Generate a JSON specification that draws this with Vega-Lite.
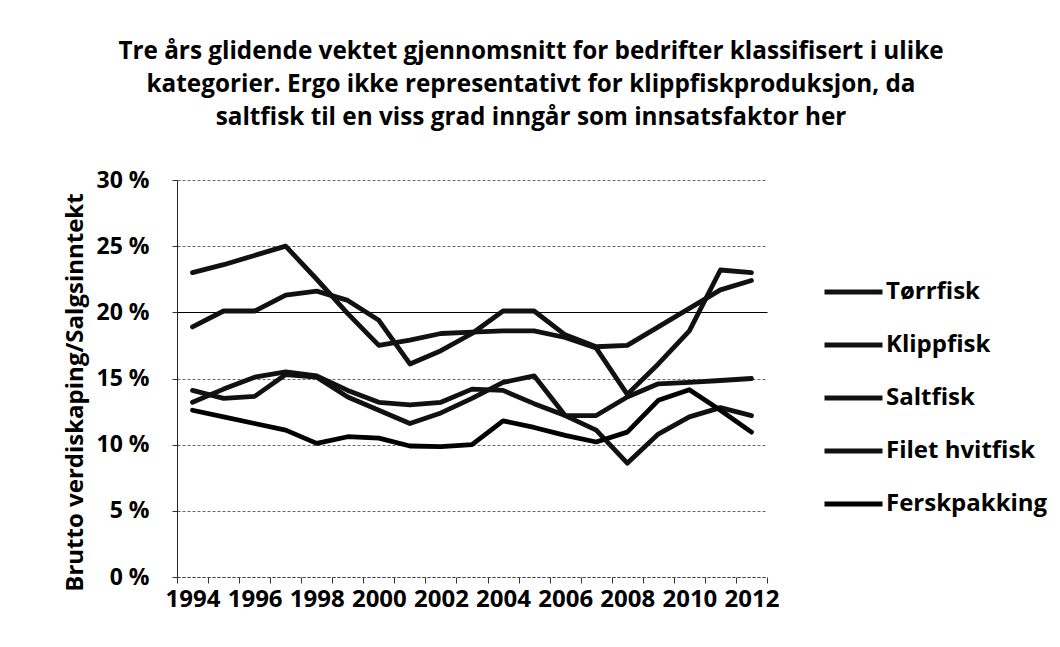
{
  "$schema": "https://vega.github.io/schema/vega-lite/v6.json",
  "autosize": "none",
  "width": 590,
  "height": 397,
  "padding": {"left": 177, "top": 180, "right": 293, "bottom": 70},
  "background": "white",
  "title": {
    "text": ["Tre års glidende vektet gjennomsnitt for bedrifter klassifisert i ulike", "kategorier. Ergo ikke representativt for klippfiskproduksjon, da", "saltfisk til en viss grad inngår som innsatsfaktor her"],
    "font": "Open Sans", "fontSize": 24.3, "fontWeight": "bold", "lineHeight": 33,
    "anchor": "middle", "dx": 59, "offset": 39, "color": "black"
  },
  "datasets": {
    "d": [
      {"year": 1994, "serie": "Tørrfisk", "value": 23.0},
      {"year": 1995, "serie": "Tørrfisk", "value": 23.6},
      {"year": 1996, "serie": "Tørrfisk", "value": 24.3},
      {"year": 1997, "serie": "Tørrfisk", "value": 25.0},
      {"year": 1998, "serie": "Tørrfisk", "value": 22.5},
      {"year": 1999, "serie": "Tørrfisk", "value": 19.9},
      {"year": 2000, "serie": "Tørrfisk", "value": 17.5},
      {"year": 2001, "serie": "Tørrfisk", "value": 17.9},
      {"year": 2002, "serie": "Tørrfisk", "value": 18.4},
      {"year": 2003, "serie": "Tørrfisk", "value": 18.5},
      {"year": 2004, "serie": "Tørrfisk", "value": 18.6},
      {"year": 2005, "serie": "Tørrfisk", "value": 18.6},
      {"year": 2006, "serie": "Tørrfisk", "value": 18.1},
      {"year": 2007, "serie": "Tørrfisk", "value": 17.3},
      {"year": 2008, "serie": "Tørrfisk", "value": 13.8},
      {"year": 2009, "serie": "Tørrfisk", "value": 16.1},
      {"year": 2010, "serie": "Tørrfisk", "value": 18.6},
      {"year": 2011, "serie": "Tørrfisk", "value": 23.2},
      {"year": 2012, "serie": "Tørrfisk", "value": 23.0},
      {"year": 1994, "serie": "Klippfisk", "value": 18.9},
      {"year": 1995, "serie": "Klippfisk", "value": 20.1},
      {"year": 1996, "serie": "Klippfisk", "value": 20.1},
      {"year": 1997, "serie": "Klippfisk", "value": 21.3},
      {"year": 1998, "serie": "Klippfisk", "value": 21.6},
      {"year": 1999, "serie": "Klippfisk", "value": 20.9},
      {"year": 2000, "serie": "Klippfisk", "value": 19.4},
      {"year": 2001, "serie": "Klippfisk", "value": 16.1},
      {"year": 2002, "serie": "Klippfisk", "value": 17.1},
      {"year": 2003, "serie": "Klippfisk", "value": 18.4},
      {"year": 2004, "serie": "Klippfisk", "value": 20.1},
      {"year": 2005, "serie": "Klippfisk", "value": 20.1},
      {"year": 2006, "serie": "Klippfisk", "value": 18.3},
      {"year": 2007, "serie": "Klippfisk", "value": 17.4},
      {"year": 2008, "serie": "Klippfisk", "value": 17.5},
      {"year": 2009, "serie": "Klippfisk", "value": 18.9},
      {"year": 2010, "serie": "Klippfisk", "value": 20.3},
      {"year": 2011, "serie": "Klippfisk", "value": 21.7},
      {"year": 2012, "serie": "Klippfisk", "value": 22.4},
      {"year": 1994, "serie": "Saltfisk", "value": 14.1},
      {"year": 1995, "serie": "Saltfisk", "value": 13.5},
      {"year": 1996, "serie": "Saltfisk", "value": 13.65},
      {"year": 1997, "serie": "Saltfisk", "value": 15.3},
      {"year": 1998, "serie": "Saltfisk", "value": 15.1},
      {"year": 1999, "serie": "Saltfisk", "value": 13.6},
      {"year": 2000, "serie": "Saltfisk", "value": 12.6},
      {"year": 2001, "serie": "Saltfisk", "value": 11.6},
      {"year": 2002, "serie": "Saltfisk", "value": 12.4},
      {"year": 2003, "serie": "Saltfisk", "value": 13.5},
      {"year": 2004, "serie": "Saltfisk", "value": 14.7},
      {"year": 2005, "serie": "Saltfisk", "value": 15.2},
      {"year": 2006, "serie": "Saltfisk", "value": 12.2},
      {"year": 2007, "serie": "Saltfisk", "value": 11.1},
      {"year": 2008, "serie": "Saltfisk", "value": 8.6},
      {"year": 2009, "serie": "Saltfisk", "value": 10.8},
      {"year": 2010, "serie": "Saltfisk", "value": 12.1},
      {"year": 2011, "serie": "Saltfisk", "value": 12.8},
      {"year": 2012, "serie": "Saltfisk", "value": 12.2},
      {"year": 1994, "serie": "Filet hvitfisk", "value": 13.2},
      {"year": 1995, "serie": "Filet hvitfisk", "value": 14.2},
      {"year": 1996, "serie": "Filet hvitfisk", "value": 15.1},
      {"year": 1997, "serie": "Filet hvitfisk", "value": 15.5},
      {"year": 1998, "serie": "Filet hvitfisk", "value": 15.2},
      {"year": 1999, "serie": "Filet hvitfisk", "value": 14.1},
      {"year": 2000, "serie": "Filet hvitfisk", "value": 13.2},
      {"year": 2001, "serie": "Filet hvitfisk", "value": 13.0},
      {"year": 2002, "serie": "Filet hvitfisk", "value": 13.2},
      {"year": 2003, "serie": "Filet hvitfisk", "value": 14.2},
      {"year": 2004, "serie": "Filet hvitfisk", "value": 14.1},
      {"year": 2005, "serie": "Filet hvitfisk", "value": 13.1},
      {"year": 2006, "serie": "Filet hvitfisk", "value": 12.2},
      {"year": 2007, "serie": "Filet hvitfisk", "value": 12.2},
      {"year": 2008, "serie": "Filet hvitfisk", "value": 13.6},
      {"year": 2009, "serie": "Filet hvitfisk", "value": 14.6},
      {"year": 2010, "serie": "Filet hvitfisk", "value": 14.7},
      {"year": 2011, "serie": "Filet hvitfisk", "value": 14.85},
      {"year": 2012, "serie": "Filet hvitfisk", "value": 15.0},
      {"year": 1994, "serie": "Ferskpakking", "value": 12.6},
      {"year": 1995, "serie": "Ferskpakking", "value": 12.1},
      {"year": 1996, "serie": "Ferskpakking", "value": 11.6},
      {"year": 1997, "serie": "Ferskpakking", "value": 11.1},
      {"year": 1998, "serie": "Ferskpakking", "value": 10.1},
      {"year": 1999, "serie": "Ferskpakking", "value": 10.6},
      {"year": 2000, "serie": "Ferskpakking", "value": 10.5},
      {"year": 2001, "serie": "Ferskpakking", "value": 9.9},
      {"year": 2002, "serie": "Ferskpakking", "value": 9.85},
      {"year": 2003, "serie": "Ferskpakking", "value": 10.0},
      {"year": 2004, "serie": "Ferskpakking", "value": 11.8},
      {"year": 2005, "serie": "Ferskpakking", "value": 11.3},
      {"year": 2006, "serie": "Ferskpakking", "value": 10.7},
      {"year": 2007, "serie": "Ferskpakking", "value": 10.2},
      {"year": 2008, "serie": "Ferskpakking", "value": 10.95},
      {"year": 2009, "serie": "Ferskpakking", "value": 13.35},
      {"year": 2010, "serie": "Ferskpakking", "value": 14.15},
      {"year": 2011, "serie": "Ferskpakking", "value": 12.6},
      {"year": 2012, "serie": "Ferskpakking", "value": 10.95}
    ]
  },
  "data": {"name": "d"},
  "mark": {"type": "line", "strokeWidth": 4.8, "strokeCap": "round", "strokeJoin": "round"},
  "encoding": {
    "x": {
      "field": "year", "type": "ordinal",
      "scale": {"type": "band", "paddingInner": 0, "paddingOuter": 0},
      "axis": {
        "title": null, "labelAngle": 0, "labelOverlap": false,
        "labelExpr": "datum.value % 2 === 0 ? '' + datum.value : ''",
        "tickBand": "extent", "tickSize": 6, "tickColor": "#333",
        "domainColor": "#444", "domainDash": [3, 2],
        "labelFont": "Open Sans", "labelFontSize": 24, "labelFontWeight": "bold", "labelColor": "black",
        "labelPadding": 4, "grid": false
      }
    },
    "y": {
      "field": "value", "type": "quantitative",
      "scale": {"domain": [0, 30], "nice": false},
      "axis": {
        "title": "Brutto verdiskaping/Salgsinntekt",
        "titleFont": "Open Sans", "titleFontSize": 24, "titleFontWeight": "bold", "titleColor": "black",
        "titleX": -102, "titleY": 212, "titleAngle": 270, "titleAlign": "center", "titleBaseline": "middle",
        "values": [0, 5, 10, 15, 20, 25, 30],
        "labelExpr": "datum.value + ' %'",
        "labelFont": "Open Sans", "labelFontSize": 23, "labelFontWeight": "bold", "labelColor": "black",
        "labelPadding": 23, "tickSize": 5, "tickColor": "#333",
        "domainColor": "#222",
        "grid": true,
        "gridColor": {"condition": {"test": "datum.value === 20", "value": "black"}, "value": "#666"},
        "gridDash": {"condition": {"test": "datum.value === 20", "value": []}, "value": [3, 2]},
        "gridWidth": 1
      }
    },
    "color": {
      "field": "serie", "type": "nominal",
      "scale": {
        "domain": ["Tørrfisk", "Klippfisk", "Saltfisk", "Filet hvitfisk", "Ferskpakking"],
        "range": ["#111", "#111", "#111", "#111", "#000"]
      },
      "legend": {
        "title": null, "orient": "none", "legendX": 645, "legendY": 101,
        "padding": 0, "symbolType": "stroke", "symbolSize": 3364, "symbolStrokeWidth": 4.8,
        "clipHeight": 22, "rowPadding": 29, "labelOffset": 1, "labelLimit": 400,
        "labelFont": "Open Sans", "labelFontSize": 24, "labelFontWeight": "bold", "labelColor": "black"
      }
    }
  },
  "config": {"view": {"stroke": null}}
}
